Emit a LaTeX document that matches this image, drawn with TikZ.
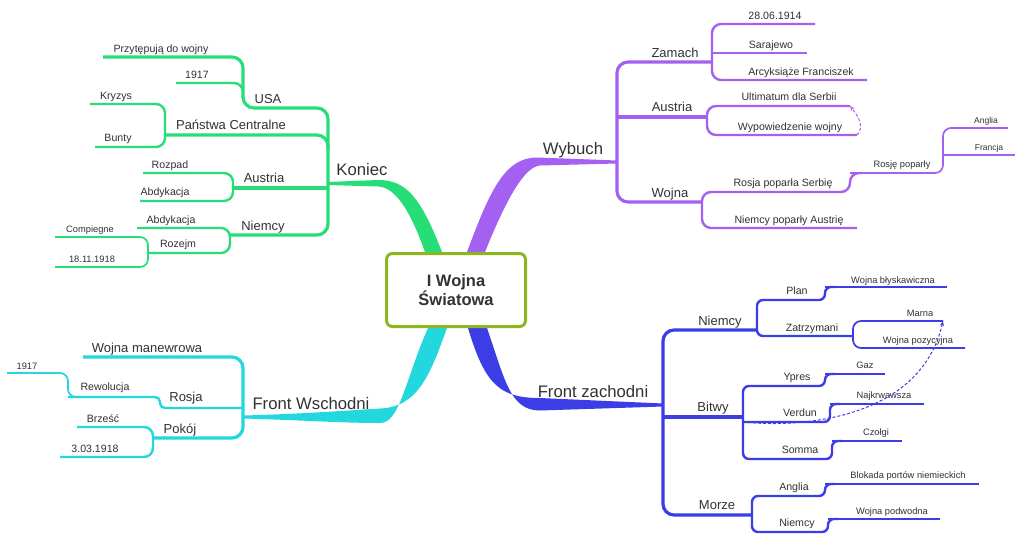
\documentclass[tikz,border=0pt]{standalone}
\usepackage{fontspec}
\setmainfont{Liberation Sans}
\usetikzlibrary{arrows.meta,calc}
\definecolor{cg}{RGB}{38,222,120}
\definecolor{cp}{RGB}{164,96,240}
\definecolor{cb}{RGB}{61,61,232}
\definecolor{cc}{RGB}{34,216,222}
\definecolor{colive}{RGB}{141,181,31}
\definecolor{txtgray}{RGB}{50,50,50}
\newcommand{\mmn}[8]{%
  \node[#2,anchor=base] (#1) at (#4,#5) {#3};
  \coordinate (#1-a) at (#6,#8);
  \coordinate (#1-b) at (#7,#8);}
\begin{document}
\begin{tikzpicture}[x=1pt,y=-1pt,
  tx/.style={inner sep=0pt,text=txtgray},
  tmain/.style={tx,font=\fontsize{16.7}{18}\selectfont},
  tl1/.style={tx,font=\fontsize{13}{15}\selectfont},
  tl2/.style={tx,font=\fontsize{10.6}{12}\selectfont},
  tl3/.style={tx,font=\fontsize{9.3}{11}\selectfont},
  tl4/.style={tx,font=\fontsize{8.5}{10}\selectfont},
  wl1/.style={line width=3.2pt,rounded corners=11pt},
  wl2/.style={line width=2.4pt,rounded corners=9pt},
  wl3/.style={line width=1.7pt,rounded corners=8pt},
  wl4/.style={line width=1.4pt},
  rel/.style={line width=1pt,dash pattern=on 3pt off 2pt,-{Stealth[length=5pt,width=4pt]}},
  rootbox/.style={draw=colive,line width=3pt,rounded corners=6pt,fill=white,
    minimum width=139pt,minimum height=73pt,align=center,text=txtgray,
    font=\fontsize{16.5}{18}\selectfont\bfseries}]
\fill[white] (0,0) rectangle (1024,544);
\useasboundingbox (0,0) rectangle (1024,544);

% ---------- main tapered branches ----------
\fill[cg] (442,258) -- (442,252) .. controls (420,195) and (405,180) .. (378,180) -- (328,182) -- (328,185) -- (378,186.5) .. controls (395,187) and (410,210) .. (425,252) -- (425,258) -- cycle;
\fill[cp] (467,258) -- (467,252) .. controls (490,190) and (505,157.5) .. (537,157.5) -- (617,160.5) -- (617,163.5) -- (540,165.5) .. controls (525,167) and (508,195) .. (485,252) -- (485,258) -- cycle;
\fill[cc] (447,322) -- (447,328) .. controls (430,375) and (418,407) .. (380,408.5) .. controls (340,411) and (300,414) .. (243,415.5) -- (243,418.5) .. controls (300,420) and (340,423) .. (380,423) .. controls (400,423) and (405,380) .. (428,328) -- (428,322) -- cycle;
\fill[cb] (468,322) -- (468,328) .. controls (485,385) and (500,398) .. (540,398) -- (663,403.5) -- (663,406.5) -- (540,410.5) .. controls (510,410.5) and (505,380) .. (487,328) -- (487,322) -- cycle;

% ---------- Koniec ----------
\mmn{koniec}{tmain}{Koniec}{362}{175}{328}{383}{183}
\mmn{usa}{tl1}{USA}{268}{103}{243}{328}{108}
\mmn{prz}{tl2}{Przytępują do wojny}{161}{52}{103}{243}{57}
\mmn{ga1917}{tl2}{1917}{197}{78}{176}{243}{83}
\mmn{pc}{tl1}{Państwa Centralne}{231}{129}{165}{328}{135}
\mmn{kry}{tl2}{Kryzys}{116}{99}{90}{165}{104}
\mmn{bun}{tl2}{Bunty}{118}{141}{95}{165}{147}
\mmn{gaus}{tl1}{Austria}{264}{182}{233}{328}{188}
\mmn{roz}{tl2}{Rozpad}{170}{168}{143}{233}{173}
\mmn{abd}{tl2}{Abdykacja}{165}{195}{140}{233}{201}
\mmn{gnie}{tl1}{Niemcy}{263}{230}{230}{328}{235}
\mmn{abdb}{tl2}{Abdykacja}{171}{223}{137}{230}{228}
\mmn{rozj}{tl2}{Rozejm}{178}{247}{148}{230}{253}
\mmn{comp}{tl3}{Compiegne}{90}{232}{55}{148}{237}
\mmn{gdat}{tl3}{18.11.1918}{92}{262}{55}{148}{267}
\draw[cg,wl1] (prz-a) -- (prz-b) -- (usa-a) -- (usa-b) -- (gnie-b) -- (gnie-a);
\draw[cg,wl2] (ga1917-a) -- (ga1917-b) -- ($(usa-a)+(0,-8)$);
\draw[cg,wl1] (pc-a) -- (pc-b) -- ($(pc-b)+(0,14)$);
\draw[cg,wl2] (kry-a) -- (kry-b) -- (bun-b) -- (bun-a);
\draw[cg,wl1] (gaus-a) -- (gaus-b);
\draw[cg,wl2] (roz-a) -- (roz-b) -- (abd-b) -- (abd-a);
\draw[cg,wl2] (abdb-a) -- (abdb-b) -- (rozj-b) -- (rozj-a);
\draw[cg,wl3] (comp-a) -- (comp-b) -- (gdat-b) -- (gdat-a);

% ---------- Wybuch ----------
\mmn{wyb}{tmain}{Wybuch}{573}{154}{537}{617}{162}
\mmn{zam}{tl1}{Zamach}{675}{57}{617}{712}{62}
\mmn{dzam}{tl2}{28.06.1914}{775}{19}{712}{815}{24}
\mmn{sar}{tl2}{Sarajewo}{771}{48}{712}{807}{53}
\mmn{arc}{tl2}{Arcyksiąże Franciszek}{801}{75}{712}{867}{80}
\mmn{paus}{tl1}{Austria}{672}{111}{617}{707}{117}
\mmn{ult}{tl2}{Ultimatum dla Serbii}{789}{100}{707}{850}{106}
\mmn{wyp}{tl2}{Wypowiedzenie wojny}{790}{130}{707}{857}{135}
\mmn{woj}{tl1}{Wojna}{670}{197}{617}{702}{202}
\mmn{rps}{tl2}{Rosja poparła Serbię}{783}{186}{702}{850}{192}
\mmn{rpo}{tl3}{Rosję poparły}{902}{167}{850}{943}{173}
\mmn{ang}{tl4}{Anglia}{986}{123}{943}{1008}{128}
\mmn{fra}{tl4}{Francja}{989}{150}{943}{1015}{155}
\mmn{npa}{tl2}{Niemcy poparły Austrię}{789}{223}{702}{857}{228}
\draw[cp,wl1] (zam-b) -- (zam-a) -- (woj-a) -- (woj-b);
\draw[cp,wl1] (paus-a) -- (paus-b);
\draw[cp,wl2] (dzam-b) -- (dzam-a) -- (arc-a) -- (arc-b);
\draw[cp,wl2] (sar-a) -- (sar-b);
\draw[cp,wl2] (ult-b) -- (ult-a) -- (wyp-a) -- (wyp-b);
\draw[cp,wl2] (npa-b) -- (npa-a) -- (rps-a) -- (rps-b) -- (rpo-a) -- ($(rpo-a)+(12,0)$);
\draw[cp,wl3] (rpo-a) -- (rpo-b) -- (ang-a) -- (ang-b);
\draw[cp,wl4] (fra-a) -- (fra-b);
\draw[cp,rel] (wyp-b) .. controls +(8,-8) and +(8,10) .. (ult-b);

% ---------- Front zachodni ----------
\mmn{fz}{tmain}{Front zachodni}{593}{397}{530}{663}{405}
\mmn{bnie}{tl1}{Niemcy}{720}{325}{663}{757}{330}
\mmn{plan}{tl2}{Plan}{797}{294}{757}{825}{300}
\mmn{wb}{tl3}{Wojna błyskawiczna}{893}{283}{825}{947}{287}
\mmn{zat}{tl2}{Zatrzymani}{812}{331}{757}{853}{336}
\mmn{mar}{tl3}{Marna}{920}{316}{853}{943}{321}
\mmn{poz}{tl3}{Wojna pozycyjna}{918}{343}{853}{965}{348}
\mmn{bit}{tl1}{Bitwy}{713}{411}{663}{743}{417}
\mmn{ypr}{tl2}{Ypres}{797}{380}{743}{825}{386}
\mmn{gaz}{tl3}{Gaz}{865}{368}{825}{885}{374}
\mmn{ver}{tl2}{Verdun}{800}{416}{743}{830}{422}
\mmn{naj}{tl3}{Najkrwawsza}{884}{398}{830}{924}{404}
\mmn{som}{tl2}{Somma}{800}{453}{743}{832}{459}
\mmn{czo}{tl3}{Czołgi}{876}{435}{832}{902}{441}
\mmn{mor}{tl1}{Morze}{717}{509}{663}{752}{515}
\mmn{angb}{tl2}{Anglia}{794}{490}{752}{825}{496}
\mmn{bp}{tl3}{Blokada portów niemieckich}{908}{478}{825}{979}{484}
\mmn{nieb}{tl2}{Niemcy}{797}{526}{752}{828}{532}
\mmn{wp}{tl3}{Wojna podwodna}{892}{514}{828}{940}{519}
\draw[cb,wl1] (bnie-b) -- (bnie-a) -- (mor-a) -- (mor-b);
\draw[cb,wl1] (bit-a) -- (bit-b);
\draw[cb,wl2,rounded corners=6pt] ($(wb-a)+(10,0)$) -- (wb-a) -- (plan-b) -- (plan-a) -- (zat-a) -- (zat-b);
\draw[cb,wl3] (wb-a) -- (wb-b);
\draw[cb,wl3] (mar-b) -- (mar-a) -- (poz-a) -- (poz-b);
\draw[cb,wl2,rounded corners=6pt] ($(gaz-a)+(10,0)$) -- (gaz-a) -- (ypr-b) -- (ypr-a) -- (som-a) -- (som-b) -- (czo-a) -- ($(czo-a)+(10,0)$);
\draw[cb,wl2,rounded corners=6pt] (ver-a) -- (ver-b) -- (naj-a) -- ($(naj-a)+(10,0)$);
\draw[cb,wl3] (gaz-a) -- (gaz-b);
\draw[cb,wl3] (naj-a) -- (naj-b);
\draw[cb,wl3] (czo-a) -- (czo-b);
\draw[cb,wl2,rounded corners=6pt] ($(bp-a)+(10,0)$) -- (bp-a) -- (angb-b) -- (angb-a) -- (nieb-a) -- (nieb-b) -- (wp-a) -- ($(wp-a)+(10,0)$);
\draw[cb,wl3] (bp-a) -- (bp-b);
\draw[cb,wl3] (wp-a) -- (wp-b);
\draw[cb,rel] (ver-a) .. controls +(57,6) and +(-23,99) .. (mar-b);

% ---------- Front Wschodni ----------
\mmn{fw}{tmain}{Front Wschodni}{311}{409}{243}{385}{417}
\mmn{wm}{tl1}{Wojna manewrowa}{147}{352}{83}{243}{357}
\mmn{ros}{tl1}{Rosja}{186}{401}{160}{243}{408}
\mmn{rew}{tl2}{Rewolucja}{105}{390}{68}{160}{397}
\mmn{cyr}{tl3}{1917}{27}{369}{7}{68}{373}
\mmn{pok}{tl1}{Pokój}{180}{433}{153}{243}{438}
\mmn{brz}{tl2}{Brześć}{103}{422}{77}{153}{427}
\mmn{dpok}{tl2}{3.03.1918}{95}{452}{60}{153}{457}
\draw[cc,wl1] (wm-a) -- (wm-b) -- (pok-b) -- (pok-a);
\draw[cc,wl2,rounded corners=5pt] (rew-a) -- (rew-b) -- (ros-a) -- (ros-b);
\draw[cc,wl3,rounded corners=8pt] (cyr-a) -- (cyr-b) -- (rew-a) -- ($(rew-a)+(10,0)$);
\draw[cc,wl2] (brz-a) -- (brz-b) -- (dpok-b) -- (dpok-a);

% ---------- root ----------
\node[rootbox] (root) at (456,290) {I Wojna\\Światowa};
\end{tikzpicture}
\end{document}
